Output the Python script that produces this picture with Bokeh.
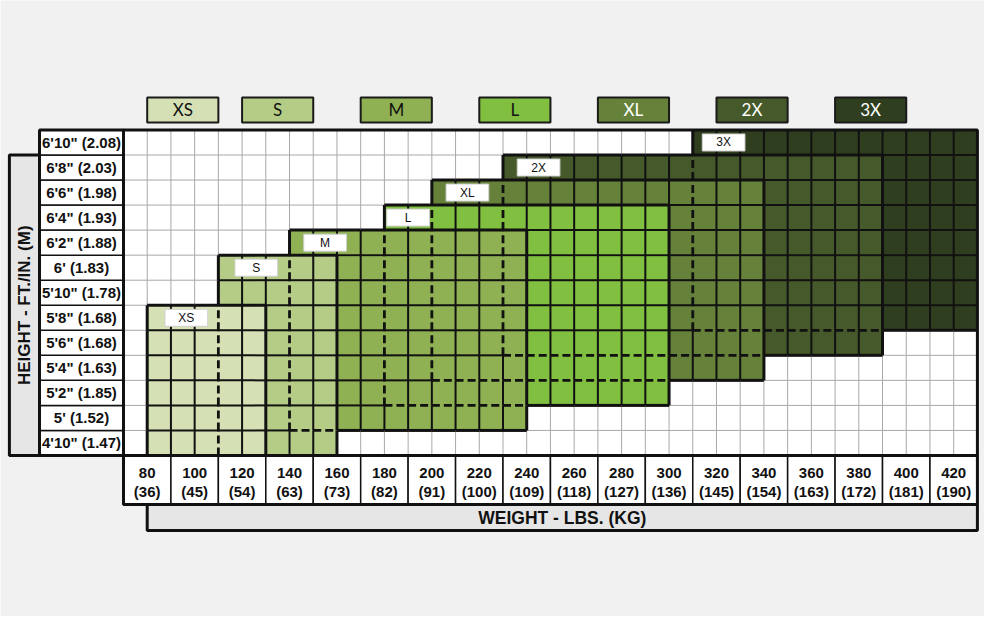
import math
from bokeh.plotting import figure
from bokeh.models import Range1d
from bokeh.core.properties import value
from bokeh.embed import file_html
from bokeh.resources import INLINE

# ---------------- data ----------------
sizes = ["XS", "S", "M", "L", "XL", "2X", "3X"]
size_colors = ["#d5e1b4", "#b5cc87", "#8fb153", "#80bf40", "#66823a", "#46592a", "#303e20"]
size_text_colors = ["#111111", "#111111", "#111111", "#111111", "#ffffff", "#ffffff", "#ffffff"]
weight_min = [80, 110, 140, 180, 200, 230, 310]      # lbs
weight_max = [130, 160, 240, 300, 340, 390, 430]     # lbs
height_min = [58, 58, 60, 62, 64, 66, 68]            # inches (row centres)
height_max = [68, 72, 74, 76, 78, 80, 82]            # inches (row centres)

weight_lbs = [80, 100, 120, 140, 160, 180, 200, 220, 240, 260, 280, 300, 320, 340, 360, 380, 400, 420]
weight_kg = ["36", "45", "54", "63", "73", "82", "91", "100", "109", "118", "127", "136",
             "145", "154", "163", "172", "181", "190"]
height_in = [58, 60, 62, 64, 66, 68, 70, 72, 74, 76, 78, 80, 82]
height_labels = ["4'10\" (1.47)", "5' (1.52)", "5'2\" (1.85)", "5'4\" (1.63)", "5'6\" (1.68)",
                 "5'8\" (1.68)", "5'10\" (1.78)", "6' (1.83)", "6'2\" (1.88)", "6'4\" (1.93)",
                 "6'6\" (1.98)", "6'8\" (2.03)", "6'10\" (2.08)"]

# annotation placement (weight units)
label_x = [96.5, 126, 155, 190, 215, 245, 323]
legend_x = [95, 135, 185, 235, 285, 335, 385]

# ---------------- geometry ----------------
step_w = (weight_lbs[1] - weight_lbs[0]) / 2
step_h = height_in[1] - height_in[0]
gx0 = weight_lbs[0] - step_w
gx1 = weight_lbs[-1] + step_w
gy0 = height_in[0] - step_h / 2
gy1 = height_in[-1] + step_h / 2
ncol = int(round((gx1 - gx0) / step_w))
nrow = len(height_in)

BG = "#f1f1f1"
p = figure(width=984, height=616, output_backend="svg", toolbar_location=None,
           x_range=Range1d(18.15, 432.99), y_range=Range1d(44.14, 93.34),
           x_axis_location=None, y_axis_location=None, min_border=0)
p.grid.visible = False
p.outline_line_color = None
p.background_fill_color = BG
p.border_fill_color = BG

# white grid background
p.quad(left=[gx0], right=[gx1], bottom=[gy0], top=[gy1], fill_color="white", line_color=None)

# size regions (largest first so smaller sizes sit on top)
order = list(range(len(sizes)))[::-1]
p.quad(left=[weight_min[i] for i in order], right=[weight_max[i] for i in order],
       bottom=[height_min[i] - step_h / 2 for i in order], top=[height_max[i] + step_h / 2 for i in order],
       fill_color=[size_colors[i] for i in order], line_color=None)


def covers(i, c, r):
    lo = gx0 + c * step_w
    hi = lo + step_w
    hc = height_in[r]
    return weight_min[i] <= lo and hi <= weight_max[i] and height_min[i] <= hc <= height_max[i]


def visible(c, r):
    for i in range(len(sizes)):
        if covers(i, c, r):
            return i
    return None


segs = {"gray": ([], [], [], []), "thin": ([], [], [], []), "dash": ([], [], [], []), "edge": ([], [], [], [])}


def classify(a, b):
    va, vb = visible(*a), visible(*b)
    if va is None and vb is None:
        return "gray"
    if va != vb:
        return "edge"
    for i in range(len(sizes)):
        if covers(i, *a) != covers(i, *b):
            return "dash"
    return "thin"


def add(kind, x0, y0, x1, y1):
    s = segs[kind]
    s[0].append(x0); s[1].append(y0); s[2].append(x1); s[3].append(y1)


for k in range(1, ncol):
    xk = gx0 + k * step_w
    for r in range(nrow):
        add(classify((k - 1, r), (k, r)), xk, height_in[r] - step_h / 2, xk, height_in[r] + step_h / 2)
for m in range(1, nrow):
    ym = height_in[m] - step_h / 2
    for c in range(ncol):
        add(classify((c, m - 1), (c, m)), gx0 + c * step_w, ym, gx0 + (c + 1) * step_w, ym)

styles = {"gray": dict(line_color="#a8a8a8", line_width=1),
          "thin": dict(line_color="#111111", line_width=2),
          "dash": dict(line_color="#111111", line_width=2.8, line_dash="8 4"),
          "edge": dict(line_color="#111111", line_width=3)}
for kind in ["gray", "thin", "dash", "edge"]:
    s = segs[kind]
    p.segment(x0=s[0], y0=s[1], x1=s[2], y1=s[3], **styles[kind])

# grid frame
p.quad(left=[gx0], right=[gx1], bottom=[gy0], top=[gy1], fill_color=None, line_color="#111111", line_width=3)

# size label boxes inside the chart
p.rect(x=label_x, y=height_max, width=18, height=1.36, fill_color="white", line_color="#d0d0d0", line_width=1)
p.text(x=label_x, y=height_max, text=sizes, text_align="center", text_baseline="middle",
       text_font=value("Liberation Sans"), text_font_size="12px", text_color="#111111")

# legend boxes
p.rect(x=legend_x, y=84.6, width=30, height=2.0, fill_color=size_colors, line_color="#1a1a1a", line_width=2)
p.text(x=legend_x, y=[84.6] * len(sizes), text=sizes, text_align="center", text_baseline="middle",
       text_font=value("Lato"), text_font_size="17px", text_color=size_text_colors)

# height labels column
col_left = 34.6
p.quad(left=[col_left] * nrow, right=[gx0] * nrow, bottom=[h - step_h / 2 for h in height_in],
       top=[h + step_h / 2 for h in height_in], fill_color="white", line_color="#111111", line_width=1.5)
p.quad(left=[col_left], right=[gx0], bottom=[gy0], top=[gy1], fill_color=None, line_color="#111111", line_width=3)
p.text(x=[(col_left + gx0) / 2] * nrow, y=height_in, text=height_labels, text_align="center",
       text_baseline="middle", text_font=value("Liberation Sans"), text_font_style="bold",
       text_font_size="15px", text_color="#111111")

# height title box
p.quad(left=[21.9], right=[col_left], bottom=[gy0], top=[height_in[-2] + step_h / 2], fill_color="#e6e6e6",
       line_color="#111111", line_width=3)
p.text(x=[(21.9 + col_left) / 2], y=[(gy0 + height_in[-2] + step_h / 2) / 2], text=["HEIGHT - FT./IN. (M)"],
       angle=math.pi / 2, text_align="center", text_baseline="middle", text_font=value("Liberation Sans"),
       text_font_style="bold", text_font_size="17px", text_color="#111111")

# weight labels row
row_bottom = 53.09
p.quad(left=[w - step_w for w in weight_lbs], right=[w + step_w for w in weight_lbs],
       bottom=[row_bottom] * len(weight_lbs), top=[gy0] * len(weight_lbs),
       fill_color="white", line_color="#111111", line_width=1.5)
p.quad(left=[gx0], right=[gx1], bottom=[row_bottom], top=[gy0], fill_color=None, line_color="#111111", line_width=3)
p.text(x=weight_lbs, y=[55.64] * len(weight_lbs), text=[str(w) for w in weight_lbs], text_align="center",
       text_baseline="middle", text_font=value("Liberation Sans"), text_font_style="bold",
       text_font_size="15px", text_color="#111111")
p.text(x=weight_lbs, y=[54.13] * len(weight_lbs), text=["(" + k + ")" for k in weight_kg], text_align="center",
       text_baseline="middle", text_font=value("Liberation Sans"), text_font_style="bold",
       text_font_size="15px", text_color="#111111")

# weight title bar
p.quad(left=[weight_lbs[0]], right=[gx1], bottom=[51.0], top=[row_bottom], fill_color="#e6e6e6",
       line_color="#111111", line_width=3)
p.text(x=[(weight_lbs[0] + gx1) / 2], y=[(51.0 + row_bottom) / 2], text=["WEIGHT - LBS. (KG)"],
       text_align="center", text_baseline="middle", text_font=value("Liberation Sans"),
       text_font_style="bold", text_font_size="17.5px", text_color="#111111")

open("out.html", "w").write(file_html(p, INLINE))
